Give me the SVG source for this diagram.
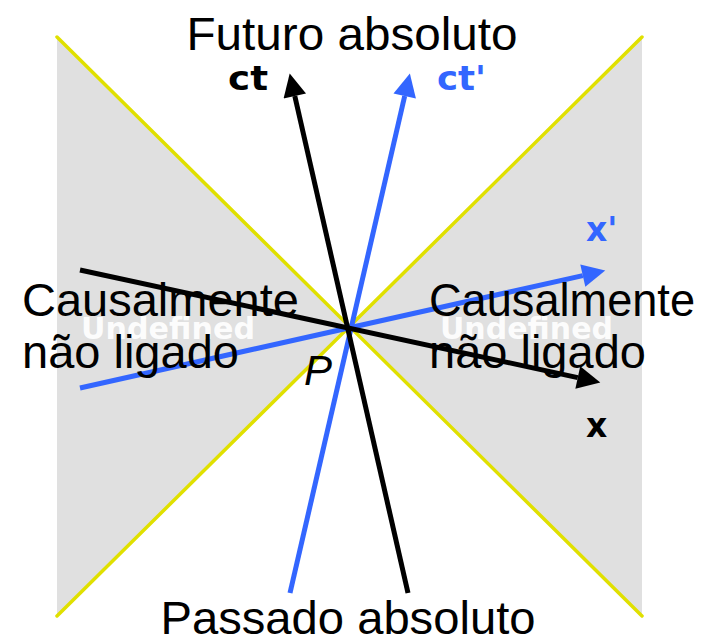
<svg xmlns="http://www.w3.org/2000/svg" width="713" height="641" viewBox="0 0 713 641">
<style>
.region{fill:#e0e0e0;stroke:none}
.cone{stroke:#e0e000;stroke-width:3.5;fill:none;stroke-linecap:round}
.ax{stroke:#000;stroke-width:5;fill:none}
.axb{stroke:#3366ff;stroke-width:5;fill:none}
.lbl{font-family:"Liberation Sans",Arial,sans-serif;font-size:47px;fill:#000}
.axl{font-family:"DejaVu Sans",sans-serif;font-weight:bold;font-size:33px}
.und{font-family:"DejaVu Sans",sans-serif;font-weight:bold;font-size:30px;fill:#ffffff;fill-opacity:0.92}
</style>
<defs>
<marker id="ah" viewBox="0 0 10 10" refX="0" refY="5" markerWidth="7" markerHeight="4.6" markerUnits="strokeWidth" orient="auto"><path d="M0,0 L10,5 L0,10 z" fill="#000"/></marker>
<marker id="ahb" viewBox="0 0 10 10" refX="0" refY="5" markerWidth="7" markerHeight="4.6" markerUnits="strokeWidth" orient="auto"><path d="M0,0 L10,5 L0,10 z" fill="#3366ff"/></marker>
</defs>
<g id="regions">
<polygon class="region" points="57,37 349,327 57,616"/>
<polygon class="region" points="642,37 349,327 642,616"/>
</g>
<g id="undefined-left"><text class="und" x="81" y="339" textLength="174" lengthAdjust="spacingAndGlyphs">Undefined</text></g>
<g id="undefined-right"><text class="und" x="440" y="339" textLength="173" lengthAdjust="spacingAndGlyphs">Undefined</text></g>
<g id="lightcone">
<line class="cone" x1="57" y1="37" x2="642" y2="616"/>
<line class="cone" x1="642" y1="37" x2="57" y2="616"/>
</g>
<g id="connectors">
<line class="axb" x1="290" y1="593" x2="404.7" y2="96"  marker-end="url(#ahb)"/>
<line class="axb" x1="80" y1="388" x2="582.8" y2="275.6" marker-end="url(#ahb)"/>
<line class="ax" x1="408" y1="593" x2="294.8" y2="96" marker-end="url(#ah)"/>
<line class="ax" x1="80" y1="270" x2="577.8" y2="377.6" marker-end="url(#ah)"/>
</g>
<g id="ct-label"><text class="axl" x="228" y="90" fill="#000" textLength="40" lengthAdjust="spacingAndGlyphs">ct</text></g>
<g id="ctp-label"><text class="axl" x="437" y="90" fill="#3366ff" textLength="49" lengthAdjust="spacingAndGlyphs">ct'</text></g>
<g id="xp-label"><text class="axl" x="586" y="241" fill="#3366ff">x'</text></g>
<g id="x-label"><text class="axl" x="586" y="437" fill="#000">x</text></g>
<g id="future"><text class="lbl" x="352" y="50" text-anchor="middle" textLength="331" lengthAdjust="spacingAndGlyphs">Futuro absoluto</text></g>
<g id="past"><text class="lbl" x="348" y="634" text-anchor="middle" textLength="375" lengthAdjust="spacingAndGlyphs">Passado absoluto</text></g>
<g id="left-region"><text class="lbl" x="22" y="316">Causalmente</text><text class="lbl" x="22" y="368">não ligado</text></g>
<g id="right-region"><text class="lbl" x="429" y="316" textLength="266" lengthAdjust="spacingAndGlyphs">Causalmente</text><text class="lbl" x="429" y="368">não ligado</text></g>
<g id="P"><text x="304" y="385" font-family="Liberation Sans,Arial,sans-serif" font-style="italic" font-size="42" fill="#000">P</text></g>
</svg>
